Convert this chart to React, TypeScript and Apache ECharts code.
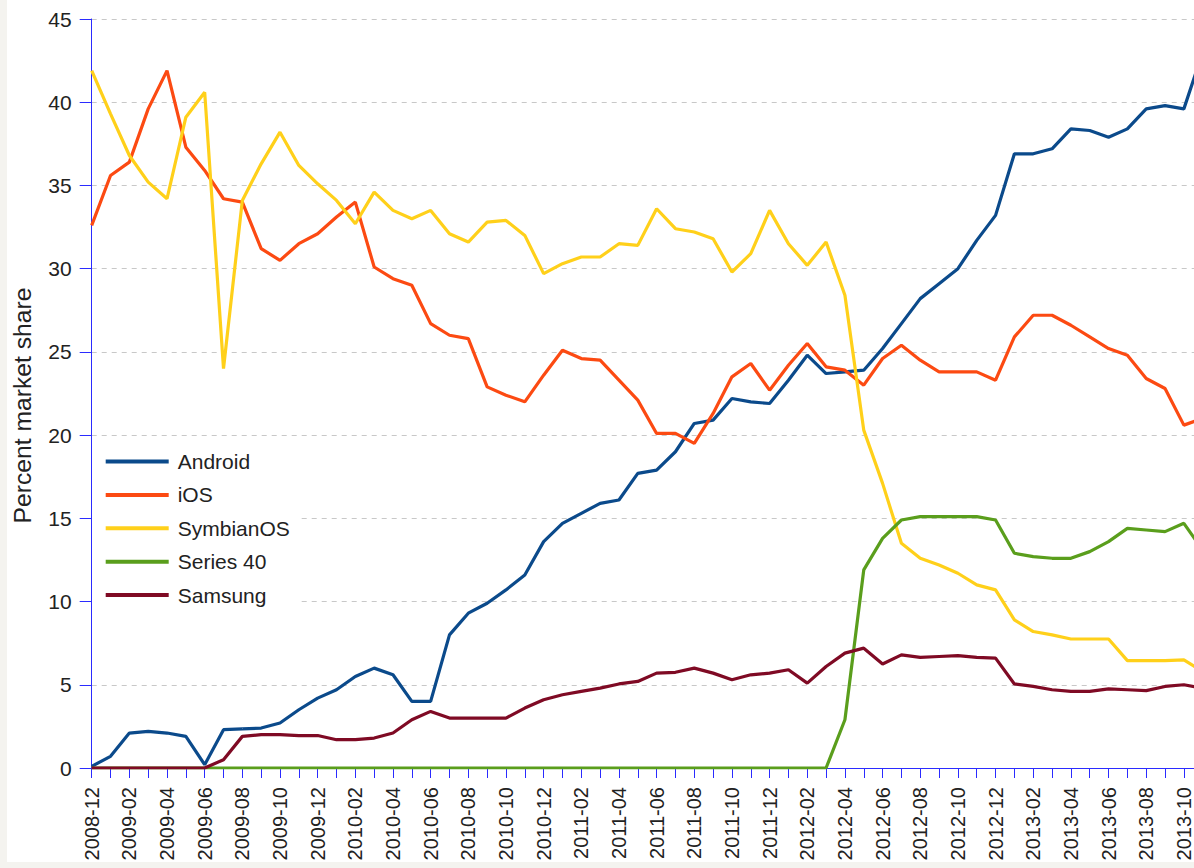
import React, { useEffect, useRef } from "react";
import * as echarts from "echarts";

const months = [
  "2008-12", "2009-01", "2009-02", "2009-03", "2009-04", "2009-05", "2009-06", "2009-07", "2009-08", "2009-09",
  "2009-10", "2009-11", "2009-12", "2010-01", "2010-02", "2010-03", "2010-04", "2010-05", "2010-06", "2010-07",
  "2010-08", "2010-09", "2010-10", "2010-11", "2010-12", "2011-01", "2011-02", "2011-03", "2011-04", "2011-05",
  "2011-06", "2011-07", "2011-08", "2011-09", "2011-10", "2011-11", "2011-12", "2012-01", "2012-02", "2012-03",
  "2012-04", "2012-05", "2012-06", "2012-07", "2012-08", "2012-09", "2012-10", "2012-11", "2012-12", "2013-01",
  "2013-02", "2013-03", "2013-04", "2013-05", "2013-06", "2013-07", "2013-08", "2013-09", "2013-10", "2013-11",
];

const android = [
  0.1, 0.7, 2.1, 2.2, 2.1, 1.9, 0.2, 2.3, 2.35, 2.4,
  2.7, 3.5, 4.2, 4.7, 5.5, 6.0, 5.6, 4.0, 4.0, 8.0,
  9.3, 9.9, 10.7, 11.6, 13.6, 14.7, 15.3, 15.9, 16.1, 17.7,
  17.9, 19.0, 20.7, 20.9, 22.2, 22.0, 21.9, 23.3, 24.8, 23.7,
  23.8, 23.9, 25.2, 26.7, 28.2, 29.1, 30.0, 31.7, 33.2, 36.9,
  36.9, 37.2, 38.4, 38.3, 37.9, 38.4, 39.6, 39.8, 39.6, 43.0,
];

const ios = [
  32.6, 35.6, 36.4, 39.6, 41.9, 37.3, 35.9, 34.2, 34.0, 31.2,
  30.5, 31.5, 32.1, 33.1, 34.0, 30.1, 29.4, 29.0, 26.7, 26.0,
  25.8, 22.9, 22.4, 22.0, 23.6, 25.1, 24.6, 24.5, 23.3, 22.1,
  20.1, 20.1, 19.5, 21.3, 23.5, 24.3, 22.7, 24.2, 25.5, 24.1,
  23.9, 23.0, 24.6, 25.4, 24.5, 23.8, 23.8, 23.8, 23.3, 25.9,
  27.2, 27.2, 26.6, 25.9, 25.2, 24.8, 23.4, 22.8, 20.6, 21.0,
];

const symbian = [
  41.9, 39.3, 36.8, 35.2, 34.2, 39.1, 40.6, 24.0, 34.1, 36.3,
  38.2, 36.2, 35.1, 34.1, 32.7, 34.6, 33.5, 33.0, 33.5, 32.1,
  31.6, 32.8, 32.9, 32.0, 29.7, 30.3, 30.7, 30.7, 31.5, 31.4,
  33.6, 32.4, 32.2, 31.8, 29.8, 30.9, 33.5, 31.5, 30.2, 31.6,
  28.4, 20.3, 17.1, 13.5, 12.6, 12.2, 11.7, 11.0, 10.7, 8.9,
  8.2, 8.0, 7.75, 7.75, 7.75, 6.45, 6.45, 6.45, 6.5, 5.8,
];

const series40 = [
  0, 0, 0, 0, 0, 0, 0, 0, 0, 0,
  0, 0, 0, 0, 0, 0, 0, 0, 0, 0,
  0, 0, 0, 0, 0, 0, 0, 0, 0, 0,
  0, 0, 0, 0, 0, 0, 0, 0, 0, 0,
  2.9, 11.9, 13.8, 14.9, 15.1, 15.1, 15.1, 15.1, 14.9, 12.9,
  12.7, 12.6, 12.6, 13.0, 13.6, 14.4, 14.3, 14.2, 14.7, 13.1,
];

const samsung = [
  0, 0, 0, 0, 0, 0, 0, 0.5, 1.9, 2.0,
  2.0, 1.95, 1.95, 1.7, 1.7, 1.8, 2.1, 2.9, 3.4, 3.0,
  3.0, 3.0, 3.0, 3.6, 4.1, 4.4, 4.6, 4.8, 5.05, 5.2,
  5.7, 5.75, 6.0, 5.7, 5.3, 5.6, 5.7, 5.9, 5.1, 6.1,
  6.9, 7.2, 6.25, 6.8, 6.65, 6.7, 6.75, 6.65, 6.6, 5.05,
  4.9, 4.7, 4.6, 4.6, 4.75, 4.7, 4.65, 4.9, 5.0, 4.8,
];

const seriesNames = ["Android", "iOS", "SymbianOS", "Series 40", "Samsung"];
const seriesData = [android, ios, symbian, series40, samsung];
const seriesColors = ["#0b4a8b", "#fc4a12", "#ffd01a", "#5a9e1c", "#7f0a24"];

const FONT = "'Liberation Sans', Arial, sans-serif";
const AXIS_BLUE = "#2b2bff";
const TEXT = "#222222";

export default function App() {
  const ref = useRef<HTMLDivElement>(null);

  useEffect(() => {
    document.body.style.margin = "0";
    const chart = echarts.init(ref.current!, null, { renderer: "svg" });
    chart.setOption({
      animation: false,
      backgroundColor: "#ffffff",
      grid: {
        left: 84.7,
        right: -8.7,
        top: 19,
        bottom: 94,
        containLabel: false,
        outerBoundsMode: "none",
      },
      legend: {
        orient: "vertical",
        left: 85,
        top: 443,
        padding: [8, 8, 8, 13.7],
        backgroundColor: "#ffffff",
        icon: "rect",
        itemWidth: 63,
        itemHeight: 4,
        itemGap: 12.4,
        data: seriesNames,
        formatter: (name: string) => `{t|${name}}`,
        textStyle: {
          color: TEXT,
          fontSize: 21,
          fontFamily: FONT,
          rich: {
            t: {
              color: TEXT,
              fontSize: 21,
              lineHeight: 22,
              fontFamily: FONT,
              padding: [0, 0, 0, 4],
            },
          },
        },
      },
      xAxis: {
        type: "category",
        data: months,
        boundaryGap: false,
        axisLine: { show: true, lineStyle: { color: AXIS_BLUE, width: 1 } },
        axisTick: { show: true, interval: 0, length: 10, lineStyle: { color: AXIS_BLUE, width: 1 } },
        axisLabel: {
          interval: 1,
          rotate: 90,
          fontSize: 20,
          color: TEXT,
          fontFamily: FONT,
          margin: 19,
        },
        splitLine: { show: false },
      },
      yAxis: {
        type: "value",
        min: 0,
        max: 45,
        interval: 5,
        name: "Percent market share",
        nameLocation: "middle",
        nameRotate: 90,
        nameGap: 57,
        nameTextStyle: { fontSize: 24.7, color: TEXT, fontFamily: FONT, padding: [0, 24, 0, 0] },
        axisLine: { show: true, lineStyle: { color: AXIS_BLUE, width: 1 } },
        axisTick: { show: true, length: 12, lineStyle: { color: AXIS_BLUE, width: 1 } },
        axisLabel: { fontSize: 21, color: TEXT, fontFamily: FONT, margin: 20 },
        splitLine: { show: true, lineStyle: { color: "#c8c8c8", type: [5, 5], width: 1 } },
      },
      series: seriesNames.map((name, i) => ({
        name,
        type: "line",
        data: seriesData[i],
        symbol: "none",
        showSymbol: false,
        lineStyle: { width: 3.2, color: seriesColors[i] },
        itemStyle: { color: seriesColors[i] },
        emphasis: { disabled: true },
      })),
    });
    return () => chart.dispose();
  }, []);

  return (
    <div
      style={{
        position: "fixed",
        left: 0,
        top: 0,
        width: 1194,
        height: 868,
        background: "#f4f3ef",
        overflow: "hidden",
      }}
    >
      <div
        ref={ref}
        style={{ position: "absolute", left: 7, top: 0, width: 1187, height: 862, background: "#ffffff" }}
      />
    </div>
  );
}
